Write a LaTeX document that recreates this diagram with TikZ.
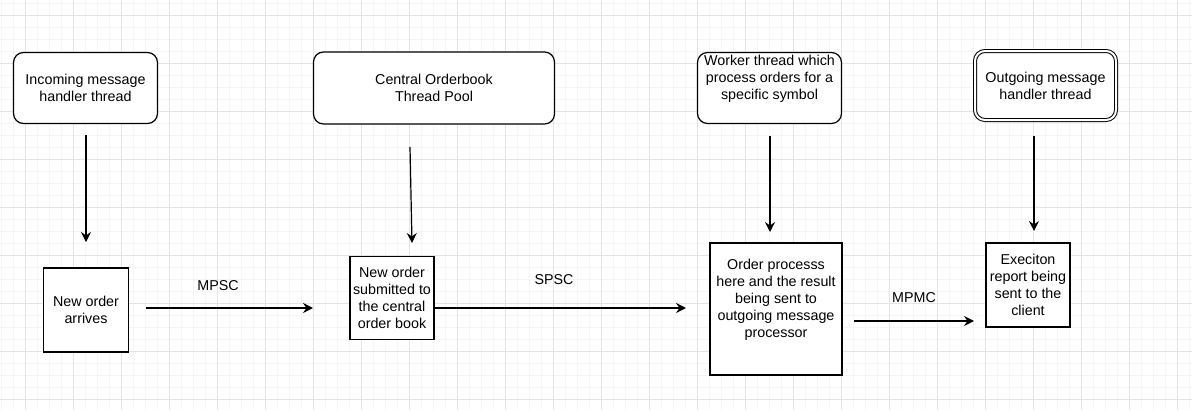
\documentclass[tikz,border=0pt]{standalone}
\usepackage{fontspec}
\setmainfont{Liberation Sans}
\usetikzlibrary{arrows.meta,positioning}
\definecolor{gridmajor}{RGB}{228,228,228}
\definecolor{gridminor}{RGB}{245,245,245}

\begin{document}
\begin{tikzpicture}[x=1pt,y=-1pt,on grid,
  font=\fontsize{14.3}{17}\selectfont,
  thread/.style={draw,rounded corners=10pt,line width=1.2pt,fill=white,align=center,inner sep=0pt},
  task/.style={draw,line width=1.2pt,fill=white,align=center,inner sep=0pt},
  flow/.style={-{Stealth[length=10pt,width=10pt,inset=3.5pt]},line width=1.2pt},
  chan/.style={inner sep=0pt}]
\useasboundingbox (0,0) rectangle (1192,410);
% background grid
\foreach \x in {1,13,...,1189} \draw[gridminor,line width=0.8pt] (\x,0) -- (\x,410);
\foreach \y in {3,15,...,407} \draw[gridminor,line width=0.8pt] (0,\y) -- (1192,\y);
\foreach \x in {25,73,...,1177} \draw[gridmajor,line width=0.8pt] (\x,0) -- (\x,410);
\foreach \y in {15,63,...,399} \draw[gridmajor,line width=0.8pt] (0,\y) -- (1192,\y);
% threads
\node[thread,minimum width=144pt,minimum height=71pt] (t1) at (85.5,88) {Incoming message\\handler thread};
\node[thread,minimum width=241pt,minimum height=72pt] (t2) [right=348.5pt of t1] {Central Orderbook\\Thread Pool};
\node[thread,minimum width=144pt,minimum height=71pt] (t3) [right=335.5pt of t2] {Worker thread which\\process orders for a\\specific symbol\\\strut};
\node[thread,double,double distance=2pt,line width=1pt,minimum width=141pt,minimum height=69pt] (t4) [right=276pt of t3,yshift=2.5pt] {Outgoing message\\handler thread};
% tasks
\node[task,minimum width=85pt,minimum height=84pt] (b1) [below=222pt of t1,xshift=0.5pt] {New order\\arrives};
\node[task,minimum width=84pt,minimum height=83pt] (b2) [below=210pt of t2,xshift=-42pt] {New order\\submitted to\\the central\\order book};
\node[task,minimum width=132pt,minimum height=132pt] (b3) [below=221pt of t3,xshift=6.5pt] {Order processs\\here and the result\\being sent to\\outgoing message\\processor\\\strut};
\node[task,minimum width=84pt,minimum height=84pt] (b4) [below=199.5pt of t4,xshift=-17.5pt] {Execiton\\report being\\sent to the\\client};
% queues
\node[chan] (mpsc) at (218,286) {MPSC};
\node[chan] (spsc) at (554,280) {SPSC};
\node[chan] (mpmc) at (914,298) {MPMC};
% loose arrow ends
\coordinate (d1s) at (86,135);   \coordinate (d1e) at (86,242);
\coordinate (d2s) at (410,147);  \coordinate (d2e) at (412,243);
\coordinate (d3s) at (770,136);  \coordinate (d3e) at (770,232);
\coordinate (d4s) at (1034,136); \coordinate (d4e) at (1034,231);
\coordinate (h1s) at (146,308);  \coordinate (h1e) at (313,308);
\coordinate (h2s) at (434,308);  \coordinate (h2e) at (686,308);
\coordinate (h3s) at (854,321);  \coordinate (h3e) at (974,321);
\path[flow]
	(d1s) edge (d1e)
	(d2s) edge (d2e)
	(d3s) edge (d3e)
	(d4s) edge (d4e)
	(h1s) edge (h1e)
	(h2s) edge (h2e)
	(h3s) edge (h3e);
\end{tikzpicture}
\end{document}
